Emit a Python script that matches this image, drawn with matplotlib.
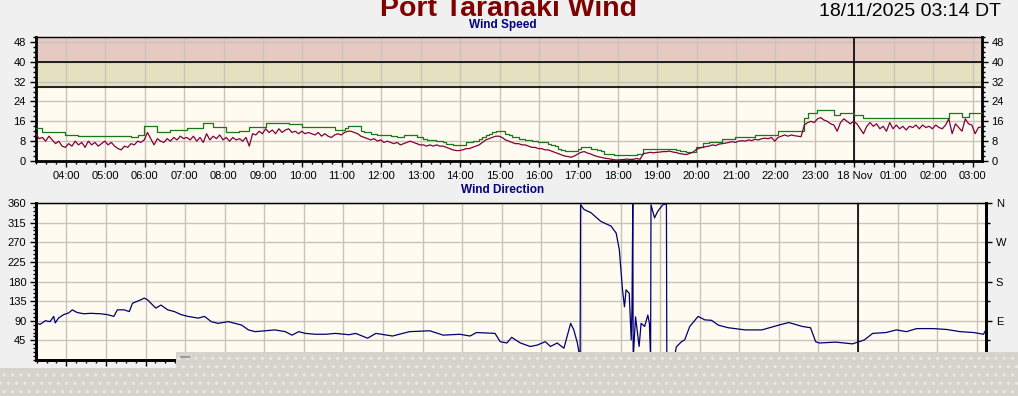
import numpy as np
import matplotlib.pyplot as plt
from matplotlib.patches import Rectangle
from matplotlib.ticker import MultipleLocator

plt.rcParams['font.family'] = ['Liberation Sans', 'DejaVu Sans']

# 24 hour window: 03:14 on 17 Nov to 03:14 on 18 Nov (hours since 00:00 17 Nov)
START = 3 + 14 / 60
END = 27 + 14 / 60
STEP = 5 / 60

# mean wind speed (knots), every 5 minutes from 03:14
mean_speed = [
    11, 9, 9.5, 8, 10, 8.5, 7, 8, 6, 5.5, 7, 6,
    8, 6.5, 7.5, 5.5, 8, 6.5, 7.5, 6, 7, 8, 6.5, 7.5,
    6, 5, 4.5, 6, 5.5, 7, 6.5, 8, 7.5, 8.5, 11.5, 9,
    6.5, 9, 8, 7.5, 9, 8, 9.5, 8.5, 10, 9, 9.5, 8.5,
    10, 8, 9.5, 7.5, 11, 8.5, 10, 9, 10.5, 8.5, 9.5, 8,
    9.5, 8.5, 9, 8, 9.5, 6, 11, 10.5, 12, 11, 13, 11.5,
    12.5, 11, 13, 11.5, 12.5, 13, 11.5, 12, 11, 12, 11, 11.5,
    11, 10.5, 11.5, 10, 11, 10, 9.5, 10.5, 11, 10.5, 11.5, 12,
    12, 11.5, 11, 10, 9.5, 9, 8.5, 9, 8, 8.5, 7.5, 8,
    7.5, 7, 7.5, 6.5, 7, 7.5, 8, 7.5, 7, 6.5, 6.5, 6,
    6.5, 6, 6.5, 6, 6, 5.5, 5, 4.5, 4.2, 4.2, 4.5, 5,
    5, 5.5, 6, 6.5, 7.5, 8.5, 9, 9.5, 10, 10, 9.5, 8.5,
    8, 7.5, 7, 7, 6.5, 6.5, 6, 5.5, 5.5, 5, 5, 4.5,
    4.5, 4, 3.5, 3, 2.5, 2, 1.8, 1.5, 2, 2.8, 3.5, 3.8,
    3.2, 2.8, 2.2, 1.8, 1.5, 1.2, 1, 0.8, 0.5, 0.4, 0.5, 0.6,
    0.8, 0.6, 0.7, 1, 0.7, 3, 3.2, 3.5, 3.3, 3.5, 3.6, 3.8,
    3.8, 4, 3.6, 3.4, 3, 2.8, 2.6, 3, 3.5, 4.5, 5.2, 5.5,
    5.8, 6, 6.5, 6.2, 6.8, 7, 7.2, 7.5, 7.8, 7.5, 8, 8.2,
    8, 8.5, 8.2, 8.8, 8.5, 9, 9.2, 9, 9.5, 8, 9.5, 10,
    10.5, 10, 10.5, 10.2, 10, 9.8, 14.5, 15.5, 16, 15.5, 17, 17.5,
    16.5, 16, 15, 14.5, 12, 15.5, 17, 16, 15, 16, 15, 13,
    11, 14, 15.5, 14, 15, 13, 14, 12, 15.5, 13, 14.5, 13,
    14, 12.5, 14, 13.5, 14.5, 13, 14.5, 13.5, 14, 13, 14.5, 13.5,
    13, 14.5, 17, 11, 15, 13.5, 12, 17, 15, 14.5, 11, 13.5,
    13.8,
]

# gust speed (knots), every 5 minutes from 03:14
gust_speed = [
    13.2, 13.2, 11.8, 11.8, 11.8, 11.8, 11.8, 11.8, 11.8, 10.5, 10.5, 10.5,
    10.5, 9.9, 9.9, 9.9, 9.9, 9.9, 9.9, 9.9, 9.9, 9.9, 9.9, 9.9,
    9.9, 9.9, 9.9, 9.9, 9.9, 9.5, 9.5, 10.4, 10.4, 14.2, 14.2, 14.2,
    14.2, 11.8, 11.8, 11.8, 11.8, 12.5, 12.5, 12.5, 12.5, 12.5, 13.2, 13.2,
    13.2, 13.2, 13.2, 15.2, 15.2, 15.2, 13.6, 13.6, 13.6, 13.6, 11.8, 11.8,
    11.8, 11.8, 12.2, 12.2, 12.2, 13.8, 13.8, 13.8, 13.8, 13.8, 15.2, 15.2,
    15.2, 15.2, 15.2, 15.2, 15.2, 15, 15, 15, 15, 13.8, 13.8, 13.8,
    13.8, 13.8, 13.6, 13.6, 13.6, 13.6, 13.6, 12.5, 12.5, 12.5, 13.2, 14.1,
    14.1, 14.1, 14.1, 12, 11.5, 11.5, 11, 11, 10.5, 10.5, 10.5, 10.5,
    10, 10, 9.5, 9.5, 10.5, 10.5, 10.5, 10.5, 9.5, 9.5, 9, 8.5,
    8.5, 8.5, 8, 8, 7.5, 7, 7, 6.5, 6.5, 6.5, 6.5, 7.5,
    7.5, 8, 8, 9, 9.5, 10.5, 11, 11.5, 12, 12, 12, 11,
    10.5, 9.5, 9.5, 9, 9, 8.5, 8.5, 8, 8, 7.5, 7.5, 7.5,
    7, 6.5, 6, 5, 4.5, 4, 4, 4, 4, 5, 5.5, 5.5,
    5.5, 5, 5, 4.5, 4, 3, 3, 3, 2.5, 2.5, 2.5, 2.5,
    2.5, 2.5, 2.5, 3, 3, 5, 5, 5, 5, 5, 5, 5,
    5, 5, 5, 4.5, 4, 4, 3.8, 3.8, 3.8, 5.8, 5.8, 7.1,
    7.1, 7.8, 7.8, 7.8, 7.8, 8.7, 8.7, 8.7, 8.7, 9.7, 9.7, 9.7,
    9.7, 9.7, 9.7, 10.4, 10.4, 10.4, 10.4, 10.4, 10.4, 10.4, 12.2, 12.2,
    12.2, 12.2, 12.2, 12.2, 12.2, 12.2, 17.2, 19.2, 19.2, 19.2, 20.5, 20.5,
    20.5, 20.5, 20.5, 18.5, 18.5, 19.2, 19.2, 19.2, 19.2, 18.5, 18.5, 18.5,
    17.5, 17.5, 17.5, 17.5, 17.5, 17.2, 17.2, 17.5, 17.5, 17.5, 17.5, 17.5,
    17.5, 17.5, 17.2, 17.2, 17.2, 17.5, 17.5, 17.5, 17.5, 17.5, 17.5, 17.5,
    17.5, 17.5, 19.2, 19.2, 19.2, 19.2, 17.8, 17.8, 19.5, 19.5, 19.5, 19.5,
    19.5,
]

# wind direction (degrees) at the given hours
dir_hours = [
    3.23, 3.34, 3.47, 3.59, 3.68, 3.72, 3.80, 3.93, 4.06, 4.15,
    4.27, 4.44, 4.61, 4.87, 5.04, 5.20, 5.29, 5.46, 5.59, 5.67,
    5.88, 5.97, 6.05, 6.14, 6.26, 6.39, 6.56, 6.73, 6.90, 7.07,
    7.33, 7.49, 7.66, 7.83, 8.09, 8.26, 8.43, 8.60, 8.77, 9.02,
    9.27, 9.53, 9.70, 9.87, 10.04, 10.29, 10.55, 10.80, 11.14, 11.31,
    11.61, 11.82, 12.24, 12.67, 13.18, 13.52, 13.94, 14.20, 14.36, 14.83,
    14.96, 15.13, 15.25, 15.47, 15.72, 15.89, 16.10, 16.23, 16.40, 16.57,
    16.67, 16.74, 16.82, 16.91, 16.98, 16.99, 17.08, 17.25, 17.50, 17.76,
    17.89, 17.97, 18.05, 18.10, 18.14, 18.22, 18.27, 18.29, 18.31, 18.32,
    18.38, 18.47, 18.52, 18.61, 18.69, 18.73, 18.76, 18.77, 18.86, 18.94,
    19.07, 19.16, 19.17, 19.37, 19.41, 19.54, 19.62, 19.75, 19.96, 20.13,
    20.30, 20.47, 20.72, 21.15, 21.57, 22.00, 22.25, 22.59, 22.80, 22.93,
    23.02, 23.44, 23.86, 24.16, 24.37, 24.71, 24.97, 25.22, 25.48, 25.90,
    26.24, 26.58, 26.92, 27.17, 27.23,
]
dir_deg = [
    84, 82, 90, 88, 100, 85, 96, 104, 108, 115,
    109, 106, 107, 106, 104, 100, 115, 115, 111, 130,
    138, 142, 138, 130, 119, 126, 115, 111, 104, 100,
    96, 100, 88, 84, 88, 84, 80, 69, 65, 67,
    69, 65, 57, 65, 61, 59, 59, 61, 58, 61,
    50, 61, 55, 65, 67, 57, 59, 55, 63, 61,
    42, 39, 52, 39, 31, 34, 42, 31, 39, 27,
    60, 84, 69, 39, 2, 356, 345, 338, 318, 307,
    291, 253, 161, 122, 161, 153, 46, 120, 360, 2,
    99, 31, 84, 77, 103, 84, 2, 356, 326, 341,
    356, 358, 2, 10, 30, 42, 46, 77, 100, 92,
    91, 80, 74, 69, 69, 80, 86, 77, 74, 42,
    39, 41, 37, 46, 61, 63, 69, 65, 72, 72,
    70, 65, 63, 59, 69,
]

hour_ticks = [4, 5, 6, 7, 8, 9, 10, 11, 12, 13, 14, 15, 16, 17, 18, 19,
              20, 21, 22, 23, 24, 25, 26, 27]
hour_labels = ['04:00', '05:00', '06:00', '07:00', '08:00', '09:00', '10:00',
               '11:00', '12:00', '13:00', '14:00', '15:00', '16:00', '17:00',
               '18:00', '19:00', '20:00', '21:00', '22:00', '23:00', '18 Nov',
               '01:00', '02:00', '03:00']
speed_ticks = [0, 8, 16, 24, 32, 40, 48]
dir_ticks = [45, 90, 135, 180, 225, 270, 315, 360]
compass_ticks = [90, 180, 270, 360]
compass_labels = ['E', 'S', 'W', 'N']

W, H = 1018, 396
fig = plt.figure(figsize=(W / 100, H / 100), dpi=100, facecolor='#f0f0f0')


def px_axes(left, top, right, bottom):
    return fig.add_axes([left / W, 1 - bottom / H, (right - left) / W, (bottom - top) / H])


def style_axes(ax):
    ax.set_facecolor('#fffbf0')
    ax.set_xlim(START, END)
    ax.grid(True, color='#c8c4bc', lw=1)
    for side in ['left', 'bottom', 'right']:
        ax.spines[side].set_linewidth(2)
    ax.spines['top'].set_linewidth(1)
    ax.xaxis.set_minor_locator(MultipleLocator(0.25))
    ax.tick_params(axis='both', which='major', direction='out', length=4,
                   width=1, labelsize=8, pad=3)
    ax.tick_params(axis='both', which='minor', direction='out', length=2, width=1)
    ax.axvline(24, color='black', lw=1.2, zorder=2)


# wind speed panel
t = START + np.arange(len(mean_speed)) * STEP
ax1 = px_axes(35.8, 37, 981.7, 161)
style_axes(ax1)
ax1.set_ylim(0, 50)
ax1.axhspan(30, 40, color='#e5e0bf', zorder=0.5)
ax1.axhspan(40, 50, color='#e7c9c4', zorder=0.5)
ax1.axhline(30, color='black', lw=1.2, zorder=2)
ax1.axhline(40, color='black', lw=1.2, zorder=2)
ax1.plot(t, gust_speed, drawstyle='steps-post', color='#187818', lw=0.9, zorder=3)
ax1.plot(t, mean_speed, color='#80003c', lw=0.9, zorder=4)
ax1.set_yticks(speed_ticks)
ax1.yaxis.set_minor_locator(MultipleLocator(2))
ax1.set_xticks(hour_ticks, hour_labels)
ax1.tick_params(axis='y', which='both', right=True, labelright=True)

# wind direction panel
ax2 = px_axes(36, 203, 986, 360)
style_axes(ax2)
ax2.set_ylim(0, 360)
ax2.plot(dir_hours, dir_deg, color='#000070', lw=0.9, zorder=4)
ax2.set_yticks(dir_ticks)
ax2.yaxis.set_minor_locator(MultipleLocator(9))
ax2.set_xticks(hour_ticks)
ax2.tick_params(axis='x', labelbottom=False)
ax2r = ax2.twinx()
ax2r.set_ylim(0, 360)
ax2r.set_yticks(compass_ticks, compass_labels)
ax2r.yaxis.set_minor_locator(MultipleLocator(45))
ax2r.tick_params(axis='y', which='major', length=4, width=1, labelsize=8, pad=3)
ax2r.tick_params(axis='y', which='minor', length=3, width=1)
for side in ['left', 'bottom', 'right']:
    ax2r.spines[side].set_linewidth(2)

# titles
fig.text(508 / W, 1 - 16 / H, 'Port Taranaki Wind', ha='center', va='baseline',
         fontsize=20.5, fontweight='bold', color='#800000')
fig.text(819 / W, 1 - 15.7 / H, '18/11/2025 03:14 DT', ha='left', va='baseline',
         fontsize=14, color='black')
fig.text(503 / W, 1 - 28.3 / H, 'Wind Speed', ha='center', va='baseline',
         fontsize=8.5, fontweight='bold', color='#000080')
fig.text(503 / W, 1 - 193.3 / H, 'Wind Direction', ha='center', va='baseline',
         fontsize=8.5, fontweight='bold', color='#000080')

# grey page panel covering the bottom of the chart
plt.rcParams['hatch.linewidth'] = 1.0
for x0, y0 in [(176, 352), (0, 368)]:
    x1 = W if x0 else 176
    fig.add_artist(Rectangle((x0 / W, 0), (x1 - x0) / W, (H - y0) / H,
                             transform=fig.transFigure, facecolor='#d6d3cd',
                             edgecolor='#ebe9e5', hatch='..', lw=0, zorder=5))
fig.add_artist(Rectangle((180 / W, 1 - 358 / H), 10 / W, 2 / H,
                         transform=fig.transFigure, facecolor='#9a9a9a',
                         lw=0, zorder=6))

fig.savefig('out.png', dpi=100, facecolor=fig.get_facecolor())
